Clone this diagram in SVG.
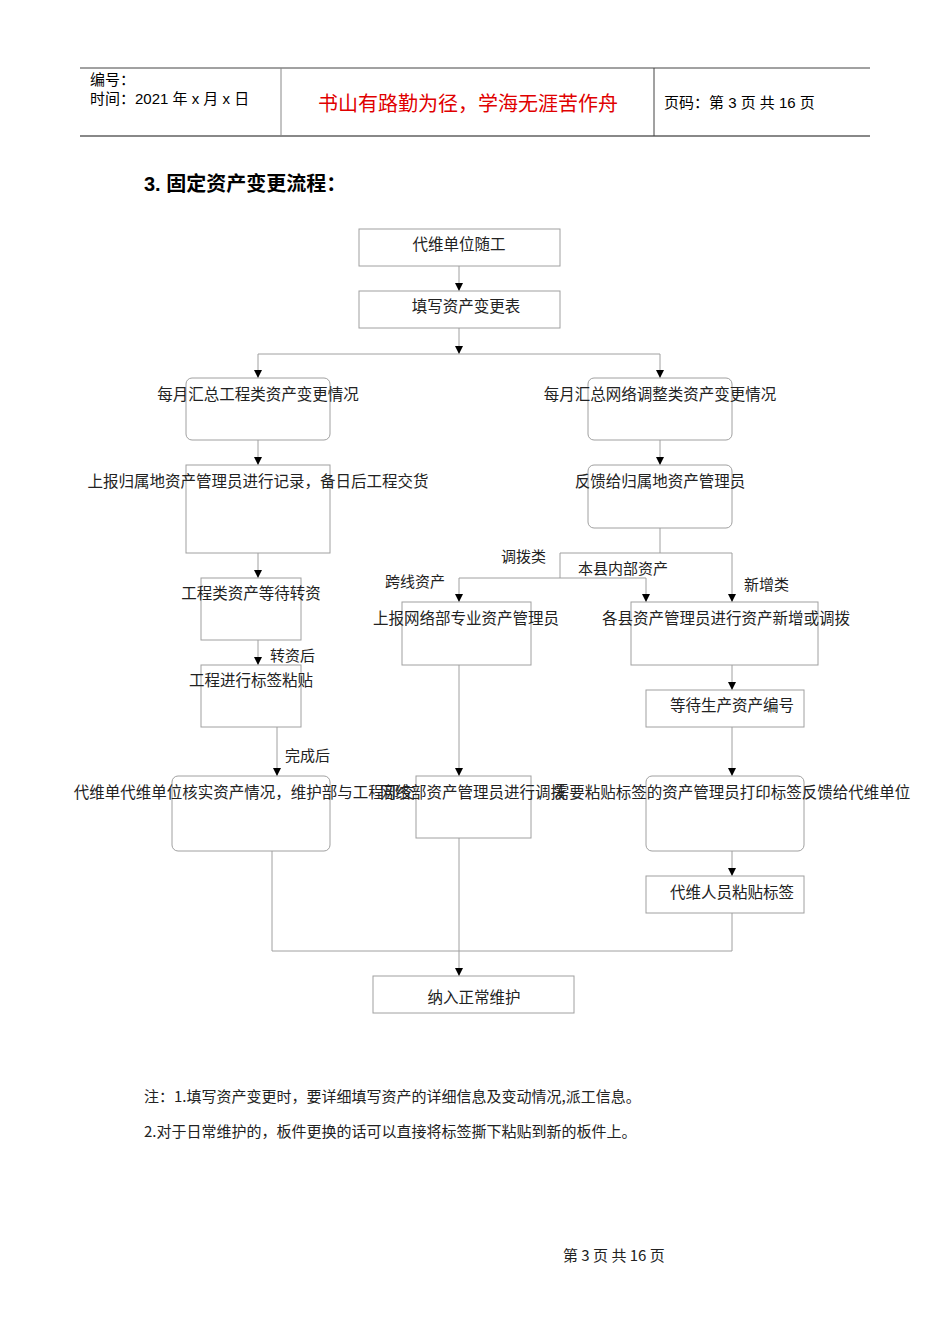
<svg xmlns="http://www.w3.org/2000/svg" width="950" height="1344" viewBox="0 0 950 1344">
<defs>
<marker id="a" viewBox="0 0 10 10" refX="10" refY="5" markerWidth="8" markerHeight="8" markerUnits="userSpaceOnUse" orient="auto"><path d="M0,0 L10,5 L0,10 z" fill="#000"/></marker>
<style>
.b{fill:#fff;stroke:#a0a0a0;stroke-width:1}
.t{font-family:"Noto Sans CJK SC",sans-serif;font-size:15.5px;fill:#222;text-anchor:middle}
.l{font-family:"Noto Sans CJK SC",sans-serif;font-size:15px;fill:#222}
.c{fill:none;stroke:#a0a0a0;stroke-width:1}
.ar{fill:none;stroke:#a0a0a0;stroke-width:1;marker-end:url(#a)}
.h{font-family:"Liberation Sans","Noto Sans CJK SC",sans-serif;font-size:15px;fill:#000}
</style>
</defs>
<rect width="950" height="1344" fill="#fff"/>
<g id="header">
<line x1="80" y1="68" x2="870" y2="68" stroke="#444" stroke-width="1"/>
<line x1="80" y1="136" x2="870" y2="136" stroke="#888" stroke-width="2"/>
<line x1="281" y1="68" x2="281" y2="136" stroke="#888"/>
<line x1="654" y1="68" x2="654" y2="136" stroke="#444"/>
<text class="h" x="90" y="85">编号：</text>
<text class="h" x="90" y="104">时间：2021 年 x 月 x 日</text>
<text x="468" y="111" font-family="Noto Sans CJK SC,sans-serif" font-size="20" fill="#e00000" text-anchor="middle">书山有路勤为径，学海无涯苦作舟</text>
<text class="h" x="664" y="108">页码：第 3 页  共 16 页</text>
<text x="144" y="191" font-family="Liberation Sans,Noto Sans CJK SC,sans-serif" font-size="20" font-weight="bold" fill="#000">3. 固定资产变更流程：</text>
</g>
<g id="connectors">
<path class="ar" d="M459,266 V291"/>
<path class="ar" d="M459,328 V354"/>
<path class="c" d="M258,354 H660"/>
<path class="ar" d="M258,354 V378"/>
<path class="ar" d="M660,354 V378"/>
<path class="ar" d="M258,440 V465"/>
<path class="ar" d="M660,440 V465"/>
<path class="ar" d="M258,553 V578"/>
<path class="c" d="M660,528 V553 M560,553 H732"/>
<path class="ar" d="M732,553 V602"/>
<path class="c" d="M560,553 V578 M459,578 H646"/>
<path class="ar" d="M459,578 V602"/>
<path class="ar" d="M646,578 V602"/>
<path class="ar" d="M258,640 V665"/>
<path class="ar" d="M732,665 V690"/>
<path class="ar" d="M277,727 V776"/>
<path class="ar" d="M459,665 V776"/>
<path class="ar" d="M732,727 V776"/>
<path class="ar" d="M732,851 V876"/>
<path class="c" d="M272,851 V951 H732 V913"/>
<path class="ar" d="M459,838 V976"/>
<text class="l" x="501" y="562">调拨类</text>
<text class="l" x="578" y="574">本县内部资产</text>
<text class="l" x="385" y="587">跨线资产</text>
<text class="l" x="744" y="590">新增类</text>
<text class="l" x="270" y="661">转资后</text>
<text class="l" x="285" y="761">完成后</text>
</g>
<g id="n1"><rect class="b" x="359" y="229" width="201" height="37"/><text class="t" x="459" y="250">代维单位随工</text></g>
<g id="n2"><rect class="b" x="359" y="291" width="201" height="37"/><text class="t" x="466" y="312">填写资产变更表</text></g>
<g id="n3"><rect class="b" x="186" y="378" width="144" height="62" rx="6"/><text class="t" x="258" y="400">每月汇总工程类资产变更情况</text></g>
<g id="n4"><rect class="b" x="588" y="378" width="144" height="62" rx="6"/><text class="t" x="660" y="400">每月汇总网络调整类资产变更情况</text></g>
<g id="n5"><rect class="b" x="186" y="465" width="144" height="88"/><text class="t" x="258" y="487">上报归属地资产管理员进行记录，备日后工程交货</text></g>
<g id="n6"><rect class="b" x="588" y="465" width="144" height="63" rx="6"/><text class="t" x="660" y="487">反馈给归属地资产管理员</text></g>
<g id="n7"><rect class="b" x="201" y="578" width="100" height="62"/><text class="t" x="251" y="599">工程类资产等待转资</text></g>
<g id="n8"><rect class="b" x="402" y="602" width="129" height="63"/><text class="t" x="466" y="624">上报网络部专业资产管理员</text></g>
<g id="n9"><rect class="b" x="631" y="602" width="187" height="63"/><text class="t" x="726" y="624">各县资产管理员进行资产新增或调拨</text></g>
<g id="n10"><rect class="b" x="201" y="665" width="100" height="62"/><text class="t" x="251" y="686">工程进行标签粘贴</text></g>
<g id="n11"><rect class="b" x="646" y="690" width="158" height="37"/><text class="t" x="732" y="711">等待生产资产编号</text></g>
<g id="n12"><rect class="b" x="172" y="776" width="158" height="75" rx="6"/><text class="t" x="252" y="798">代维单代维单位核实资产情况，维护部与工程部交接</text></g>
<g id="n13"><rect class="b" x="416" y="776" width="115" height="62"/><text class="t" x="473" y="798">网络部资产管理员进行调拨</text></g>
<g id="n14"><rect class="b" x="646" y="776" width="158" height="75" rx="6"/><text class="t" x="732" y="798">需要粘贴标签的资产管理员打印标签反馈给代维单位</text></g>
<g id="n15"><rect class="b" x="646" y="876" width="158" height="37"/><text class="t" x="732" y="898">代维人员粘贴标签</text></g>
<g id="n16"><rect class="b" x="373" y="976" width="201" height="37"/><text class="t" x="474" y="1003">纳入正常维护</text></g>
<g id="notes">
<text class="l" x="144" y="1102">注：1.填写资产变更时，要详细填写资产的详细信息及变动情况,派工信息。</text>
<text class="l" x="144" y="1137">2.对于日常维护的，板件更换的话可以直接将标签撕下粘贴到新的板件上。</text>
<text class="l" x="563" y="1261" font-size="13">第  3  页  共  16  页</text>
</g>
</svg>
